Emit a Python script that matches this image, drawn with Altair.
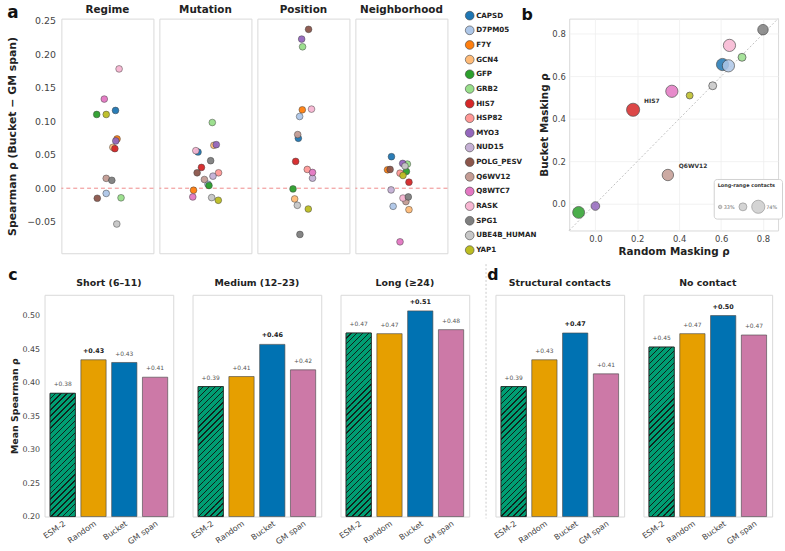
import math

import altair as alt
import pandas as pd

FONT = "DejaVu Sans"

# ---------------------------------------------------------------- proteins
PROTEINS = ["CAPSD", "D7PM05", "F7Y", "GCN4", "GFP", "GRB2", "HIS7", "HSP82",
            "MYO3", "NUD15", "POLG_PESV", "Q6WV12", "Q8WTC7", "RASK", "SPG1",
            "UBE4B_HUMAN", "YAP1"]
PROTEIN_COLORS = ["#1f77b4", "#aec7e8", "#ff7f0e", "#ffbb78", "#2ca02c", "#98df8a",
                  "#d62728", "#ff9896", "#9467bd", "#c5b0d5", "#8c564b", "#c49c94",
                  "#e377c2", "#f7b6d2", "#7f7f7f", "#c7c7c7", "#bcbd22"]

# ---------------------------------------------------------------- panel a
# Spearman rho difference (Bucket - GM span) per protein and split category,
# with the horizontal strip jitter (fraction of the panel width).
regime_protein = ["RASK", "Q8WTC7", "CAPSD", "GFP", "YAP1", "F7Y", "MYO3", "GCN4",
                  "HIS7", "Q6WV12", "SPG1", "D7PM05", "POLG_PESV", "GRB2", "UBE4B_HUMAN"]
regime_delta = [0.178, 0.133, 0.116, 0.110, 0.110, 0.0735, 0.0706, 0.061,
                0.059, 0.0147, 0.0118, -0.0078, -0.015, -0.0143, -0.0534]
regime_jitter = [0.127, -0.034, 0.088, -0.116, -0.013, 0.105, 0.091, 0.059,
                 0.081, -0.013, 0.048, -0.013, -0.110, 0.148, 0.102]

mutation_protein = ["GRB2", "GCN4", "MYO3", "RASK", "CAPSD", "SPG1", "HIS7", "POLG_PESV",
                    "HSP82", "NUD15", "Q6WV12", "GFP", "D7PM05", "F7Y", "Q8WTC7",
                    "UBE4B_HUMAN", "YAP1"]
mutation_delta = [0.098, 0.064, 0.065, 0.056, 0.054, 0.041, 0.031, 0.023,
                  0.023, 0.018, 0.013, 0.004, 0.006, -0.003, -0.013, -0.014, -0.018]
mutation_jitter = [0.075, 0.092, 0.118, -0.104, -0.080, 0.057, -0.043, -0.090,
                   0.143, 0.082, -0.011, 0.039, 0.028, -0.129, -0.137, 0.068, 0.140]

position_protein = ["POLG_PESV", "MYO3", "GRB2", "F7Y", "RASK", "D7PM05", "Q6WV12", "CAPSD",
                    "HIS7", "HSP82", "Q8WTC7", "NUD15", "GFP", "GCN4", "UBE4B_HUMAN",
                    "YAP1", "SPG1"]
position_delta = [0.237, 0.2225, 0.211, 0.117, 0.118, 0.107, 0.080, 0.0745,
                  0.040, 0.028, 0.0235, 0.015, -0.001, -0.016, -0.0255, -0.031, -0.069]
position_jitter = [0.056, -0.019, -0.009, -0.012, 0.088, -0.041, -0.062, -0.055,
                   -0.084, 0.042, 0.099, 0.099, -0.113, -0.095, -0.066, 0.053, -0.038]

neighborhood_protein = ["CAPSD", "MYO3", "GRB2", "UBE4B_HUMAN", "F7Y", "POLG_PESV", "HSP82",
                        "GFP", "YAP1", "HIS7", "NUD15", "RASK", "SPG1", "Q6WV12",
                        "D7PM05", "GCN4", "Q8WTC7"]
neighborhood_delta = [0.047, 0.037, 0.036, 0.033, 0.0275, 0.028, 0.0225, 0.025,
                      0.019, 0.009, -0.0025, -0.0147, -0.013, -0.020, -0.027, -0.032, -0.080]
neighborhood_jitter = [-0.108, 0.014, 0.065, 0.039, -0.151, -0.123, -0.015, 0.054,
                       0.017, 0.082, -0.112, 0.017, 0.075, 0.049, -0.090, 0.082, -0.015]

A_CATEGORIES = ["Regime", "Mutation", "Position", "Neighborhood"]

# ---------------------------------------------------------------- panel b
b_protein = ["CAPSD", "D7PM05", "GFP", "GRB2", "HIS7", "MYO3", "Q6WV12", "Q8WTC7",
             "RASK", "SPG1", "UBE4B_HUMAN", "YAP1"]
random_rho = [0.607, 0.635, -0.080, 0.700, 0.180, 0.000, 0.346, 0.365,
              0.640, 0.800, 0.560, 0.450]
bucket_rho = [0.656, 0.650, -0.040, 0.690, 0.443, -0.010, 0.136, 0.530,
              0.746, 0.820, 0.556, 0.510]
long_range_pct = [68, 68, 66, 46, 74, 49, 63, 68, 68, 58, 46, 42]
b_annotated = ["HIS7", "Q6WV12"]

# ---------------------------------------------------------------- panels c, d
METHODS = ["ESM-2", "Random", "Bucket", "GM span"]
METHOD_COLORS = ["#009e73", "#e69f00", "#0072b2", "#cc79a7"]
HATCH_INK = "#10231c"
bar_groups = ["Short (6–11)", "Medium (12–23)", "Long (≥24)",
              "Structural contacts", "No contact"]
short_scores = [0.384, 0.434, 0.430, 0.408]
medium_scores = [0.394, 0.409, 0.457, 0.419]
long_scores = [0.474, 0.473, 0.507, 0.479]
structural_scores = [0.394, 0.434, 0.474, 0.413]
no_contact_scores = [0.453, 0.473, 0.500, 0.471]
BAR_SCORES = [short_scores, medium_scores, long_scores,
              structural_scores, no_contact_scores]

# ---------------------------------------------------------------- layout
A_W, A_H = 93, 237
A_DOMAIN = [-0.097, 0.253]
B_W, B_H = 211, 214
B_DOMAIN = [-0.125, 0.872]
C_W, C_H = 130, 224
C_DOMAIN = [0.2, 0.531]
BAND_PAD = 0.18
HATCH_TILE = 24  # pixel height of one hatch tile (a multiple of the stripe period)
NO_FRAME = alt.ViewBackground(stroke="transparent")

protein_scale = alt.Scale(domain=PROTEINS, range=PROTEIN_COLORS)
a_scale = alt.Scale(domain=A_DOMAIN, nice=False, zero=False)

protein_legend = alt.Legend(
    orient="none", legendX=424.5, legendY=-8, title=None,
    labelFontSize=7.2, labelFontWeight="bold", labelColor="#222",
    symbolType="circle", symbolSize=78, symbolStrokeColor="#444",
    symbolStrokeWidth=0.6, symbolOpacity=1, rowPadding=2.8,
    labelOffset=1.5, padding=0)

size_legend = alt.Legend(
    orient="none", legendX=676, legendY=162, direction="horizontal",
    title="Long-range contacts", titleFontSize=5, titleFontWeight="bold",
    titleColor="#333", titlePadding=12, labelFontSize=5, labelColor="#666",
    values=[33, 46, 74],
    labelExpr="datum.value == 46 ? '' : datum.value + '%'",
    fillColor="white", strokeColor="#d0d0d0", padding=4,
    cornerRadius=3, symbolFillColor="#d4d4d4",
    symbolStrokeColor="#888", symbolStrokeWidth=0.6,
    symbolOpacity=1, columnPadding=2, labelOffset=1)


def letter(ch, x, y, size=16):
    return alt.Chart(pd.DataFrame({"t": [ch]})).mark_text(
        fontSize=size, fontWeight="bold", color="#111", align="center",
        baseline="alphabetic").encode(x=alt.value(x), y=alt.value(y), text="t:N")


# shared y axis of the strip panels, drawn in its own narrow cell
a_axis = alt.Axis(values=[-0.05, 0.0, 0.05, 0.1, 0.15, 0.2, 0.25], format=".2f",
                  title="Spearman ρ (Bucket − GM span)", titleFontSize=11,
                  titleFontWeight="bold", labelFontSize=9.5, labelPadding=0,
                  titlePadding=9, grid=False, offset=-11)
a_axis_cell = alt.layer(
    alt.Chart(pd.DataFrame({"delta": A_DOMAIN})).mark_point(opacity=0).encode(
        y=alt.Y("delta:Q", scale=a_scale, axis=a_axis)),
    letter("a", -32, -1, 17),
).properties(width=1, height=A_H, view=NO_FRAME)


def strip_panel(i, names, deltas, jitter):
    df = pd.DataFrame({"protein": names, "delta": deltas, "jitter": jitter})
    df["rank"] = df["protein"].map(PROTEINS.index)
    df = df.sort_values("rank")
    pts = alt.Chart(df).mark_circle(size=46, opacity=0.95, stroke="#3a3a3a",
                                    strokeWidth=0.5).encode(
        x=alt.X("jitter:Q", scale=alt.Scale(domain=[-0.5, 0.5], nice=False), axis=None),
        y=alt.Y("delta:Q", scale=a_scale, axis=None),
        color=alt.Color("protein:N", scale=protein_scale, legend=protein_legend),
    )
    zero = alt.Chart(pd.DataFrame({"delta": [0.0]})).mark_rule(
        color="#ef8a8a", strokeDash=[4, 3], strokeWidth=1).encode(
        y=alt.Y("delta:Q", scale=a_scale, axis=None))
    return alt.layer(zero, pts).properties(
        width=A_W, height=A_H,
        title=alt.Title(A_CATEGORIES[i], fontSize=10.5, fontWeight="bold",
                        color="#222", offset=3))


a_data = [(regime_protein, regime_delta, regime_jitter),
          (mutation_protein, mutation_delta, mutation_jitter),
          (position_protein, position_delta, position_jitter),
          (neighborhood_protein, neighborhood_delta, neighborhood_jitter)]
panel_a = alt.hconcat(a_axis_cell, *[strip_panel(i, *d) for i, d in enumerate(a_data)],
                      spacing=4)

# scatter: random vs bucket masking
b_df = pd.DataFrame({"protein": b_protein, "random": random_rho, "bucket": bucket_rho,
                     "long_range": long_range_pct})
b_scale = alt.Scale(domain=B_DOMAIN, nice=False, zero=False)
b_x_axis = alt.Axis(values=[0.0, 0.2, 0.4, 0.6, 0.8], format=".1f",
                    title="Random Masking ρ", titleFontSize=10.5,
                    titleFontWeight="bold", labelFontSize=8.5, labelPadding=4,
                    titlePadding=4, grid=True)
b_y_axis = alt.Axis(values=[0.0, 0.2, 0.4, 0.6, 0.8], format=".1f",
                    title="Bucket Masking ρ", titleFontSize=10.5,
                    titleFontWeight="bold", labelFontSize=8.5, labelPadding=4,
                    titlePadding=2, grid=True)
b_xe = alt.X("random:Q", scale=b_scale, axis=b_x_axis)
b_ye = alt.Y("bucket:Q", scale=b_scale, axis=b_y_axis)
diag_df = pd.DataFrame({"random": B_DOMAIN, "bucket": B_DOMAIN})
diag = alt.Chart(diag_df).mark_line(
    color="#b0b0b0", strokeDash=[2, 2], strokeWidth=0.8).encode(x=b_xe, y=b_ye)
b_pts = alt.Chart(b_df).mark_circle(opacity=0.85, stroke="#333", strokeWidth=0.7).encode(
    x=b_xe, y=b_ye,
    color=alt.Color("protein:N", scale=protein_scale, legend=protein_legend),
    size=alt.Size("long_range:Q",
                  scale=alt.Scale(domain=[33, 74], range=[12.6, 177], zero=False),
                  legend=size_legend),
)
b_text = alt.Chart(b_df).transform_filter(
    alt.FieldOneOfPredicate(field="protein", oneOf=b_annotated)).mark_text(
    align="left", baseline="alphabetic", dx=11, dy=-7, fontSize=6,
    fontWeight="bold", color="#333").encode(x=b_xe, y=b_ye, text="protein:N")
panel_b = alt.layer(diag, b_pts, b_text, letter("b", -42.5, 1, 16)).properties(
    width=B_W, height=B_H)

top_row = alt.hconcat(panel_a, panel_b, spacing=73)


# ---------------------------------------------------------------- bars
def hatch_tile_fill():
    """Diagonal '///' hatch for one tile of the baseline bar, as a striped gradient."""
    step = C_W / (len(METHODS) - BAND_PAD + 2 * BAND_PAD)
    w = step * (1 - BAND_PAD)
    h = float(HATCH_TILE)
    span = w + h
    k = span / (w * w + h * h)
    period, line = 6.0, 1.3
    stops, pos = [], 0.0
    while pos < span - 1e-9:
        a = round(pos / span, 5)
        b = round(min((pos + period - line) / span, 1.0), 5)
        e = round(min((pos + period) / span, 1.0), 5)
        stops += [{"offset": a, "color": METHOD_COLORS[0]},
                  {"offset": b, "color": METHOD_COLORS[0]},
                  {"offset": b, "color": HATCH_INK},
                  {"offset": e, "color": HATCH_INK}]
        pos += period
    return {"gradient": "linear", "x1": 0, "y1": 0,
            "x2": round(k * w, 5), "y2": round(k * h, 5), "stops": stops}


HATCH_FILL = hatch_tile_fill()


def hatch_tiles(score):
    """Split the baseline bar, from its top down, into equal hatch tiles."""
    tile = HATCH_TILE * (C_DOMAIN[1] - C_DOMAIN[0]) / C_H
    n = int(math.ceil((score - C_DOMAIN[0]) / tile))
    tops = [score - j * tile for j in range(n)]
    return pd.DataFrame({"method": [METHODS[0]] * n, "tile_top": tops,
                         "tile_bottom": [t - tile for t in tops]})


def bar_panel(i):
    scores = BAR_SCORES[i]
    df = pd.DataFrame({"method": METHODS, "score": scores})
    df["best"] = df["score"] == df["score"].max()
    df["txt"] = ["+%.2f" % s for s in scores]
    first = i == 0
    x = alt.X("method:N",
              scale=alt.Scale(domain=METHODS, paddingInner=BAND_PAD, paddingOuter=BAND_PAD),
              axis=alt.Axis(title=None, labelAngle=-35, labelAlign="right",
                            labelBaseline="top", labelFontSize=8, labelPadding=3,
                            labelColor="#444"))
    y_axis = alt.Axis(values=[0.2, 0.25, 0.3, 0.35, 0.4, 0.45, 0.5], format=".2f",
                      title="Mean Spearman ρ", titleFontSize=9.5, titleFontWeight="bold",
                      labelFontSize=8, labelPadding=5, titlePadding=3,
                      grid=False) if first else None
    y_scale = alt.Scale(domain=C_DOMAIN, nice=False, zero=False)
    y = alt.Y("score:Q", scale=y_scale, axis=y_axis)
    base = alt.Chart(df)
    bars = base.mark_bar(stroke="#4a4a4a", strokeWidth=0.8, strokeOpacity=0.8).encode(
        x=x, y=y, y2=alt.datum(C_DOMAIN[0]),
        fill=alt.Fill("method:N", scale=alt.Scale(domain=METHODS, range=METHOD_COLORS),
                      legend=None))
    hatch = alt.Chart(hatch_tiles(scores[0])).mark_bar(
        fill=HATCH_FILL, strokeWidth=0, clip=True).encode(
        x=x, y=alt.Y("tile_top:Q", scale=y_scale, axis=y_axis), y2="tile_bottom:Q")
    outline = base.transform_filter(alt.datum.method == METHODS[0]).mark_bar(
        fillOpacity=0, stroke="#222", strokeWidth=0.8).encode(
        x=x, y=y, y2=alt.datum(C_DOMAIN[0]))
    plain = base.transform_filter("!datum.best").mark_text(
        baseline="bottom", dy=-6, fontSize=6, color="#555").encode(x=x, y=y, text="txt:N")
    bold = base.transform_filter("datum.best").mark_text(
        baseline="bottom", dy=-6, fontSize=6.5, fontWeight="bold",
        color="#222").encode(x=x, y=y, text="txt:N")
    layers = [bars, hatch, outline, plain, bold]
    title_dy = 0
    if first:
        layers.append(letter("c", -32, -15, 16))
        title_dy = 27.5
    if i == 3:
        sep = alt.Chart(pd.DataFrame({"s": [0]})).mark_rule(
            color="#bdbdbd", strokeDash=[2, 2], strokeWidth=0.8).encode(
            x=alt.value(-9.5), y=alt.value(-31), y2=alt.value(C_H + 2))
        layers = [sep] + layers + [letter("d", -2.5, -15, 16)]
        title_dy = 30.9
    return alt.layer(*layers).properties(
        width=C_W, height=C_H,
        title=alt.Title(bar_groups[i], fontSize=9.5, fontWeight="bold",
                        color="#222", offset=7, dy=title_dy))


bottom_row = alt.hconcat(*[bar_panel(i) for i in range(5)], spacing=14.5)

chart = alt.vconcat(top_row, bottom_row, spacing=5).properties(
    padding={"left": 6, "top": 0, "right": 2, "bottom": 2},
    background="white",
).configure_view(stroke="#d9d9d9", strokeWidth=1).configure_axis(
    labelFont=FONT, titleFont=FONT, domain=False, ticks=False,
    labelColor="#444", titleColor="#222", gridColor="#eeeeee", gridWidth=0.8,
).configure_title(font=FONT).configure_legend(
    labelFont=FONT, titleFont=FONT).configure_text(font=FONT)

chart.save("out.html", embed_options={"renderer": "svg", "actions": False})
